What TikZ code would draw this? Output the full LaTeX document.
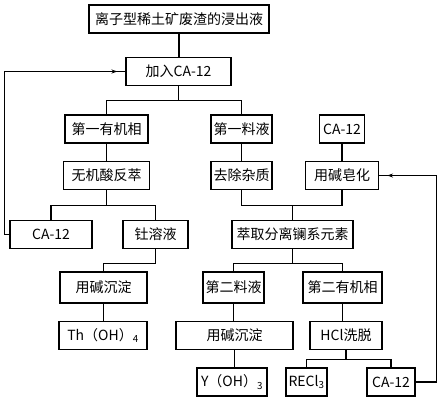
\documentclass[tikz,border=0pt]{standalone}
\usepackage{fontspec}
\newfontfamily\cjk{Noto Sans CJK SC}
\usepackage{tikz}
\usetikzlibrary{calc,arrows.meta,positioning,decorations.markings}

\begin{document}
\begin{tikzpicture}[x=1pt, y=-1pt,
        box/.style={draw, line width=1.1pt, minimum height=28pt, inner sep=1pt, align=center, font=\cjk\fontsize{14}{16}\selectfont},
        link/.style={line width=1.1pt},
        back/.style={link, postaction={decorate}, decoration={markings, mark=at position -8pt with {\arrow{Stealth[length=6pt,width=4pt]}}}},
        >=Stealth
    ]
        \fill[white] (0,0) rectangle (443,402);
        \useasboundingbox (0,0) rectangle (443,402);

        \node[box, minimum width=180pt] (leach) at (179,19) {离子型稀土矿废渣的浸出液};
        \node[box, minimum width=105pt] (add) at (178.5,71.5) {加入CA-12};
        \node[box, minimum width=83pt] (orgA) at (106.5,129) {第一有机相};
        \node[box, minimum width=61pt] (feedA) at (241.5,129) {第一料液};
        \node[box, minimum width=45pt] (caTop) at (342,129) {CA-12};
        \node[box, minimum width=86pt] (strip) at (106.5,175.5) {无机酸反萃};
        \node[box, minimum width=61pt] (clean) at (241.5,175.5) {去除杂质};
        \node[box, minimum width=73pt] (sapon) at (342,175.5) {用碱皂化};
        \node[box, minimum width=82pt] (caL) at (51,234.5) {CA-12};
        \node[box, minimum width=65pt] (thsol) at (155.5,234.5) {钍溶液};
        \node[box, minimum width=121pt] (sep) at (292.5,234.5) {萃取分离镧系元素};
        \node[box, minimum width=87pt, minimum height=31pt] (precA) at (103.5,287.5) {用碱沉淀};
        \node[box, minimum width=61pt, minimum height=31pt] (feedB) at (233.5,287.5) {第二料液};
        \node[box, minimum width=79pt, minimum height=31pt] (orgB) at (342.5,287.5) {第二有机相};
        \node[box, minimum width=88pt] (thoh) at (103,335.5) {Th（OH）\textsubscript{4}};
        \node[box, minimum width=117pt] (precB) at (234.5,335.5) {用碱沉淀};
        \node[box, minimum width=72pt] (hcl) at (346,335.5) {HCl洗脱};
        \node[box, minimum width=70pt] (yoh) at (232,382) {Y（OH）\textsubscript{3}};
        \node[box, minimum width=41pt] (recl) at (306.5,382) {RECl\textsubscript{3}};
        \node[box, minimum width=48pt] (caR) at (391,382) {CA-12};

        \draw[link] (leach.south) -- (leach.south |- add.north);
        \draw[link] (add.south) -- ++(0,14) coordinate (split1);
        \draw[link] (orgA.north) |- (split1) -| (feedA.north);
        \draw[link] (orgA) -- (strip);
        \draw[link] (feedA) -- (clean);
        \draw[link] (caTop) -- (sapon);
        \draw[link] (strip.south) -- ++(0,15) coordinate (split2);
        \draw[link] (caL.north) |- (split2) -| (thsol.north);
        \draw[link] (clean.south) -- ++(0,15) -| (sapon.south);
        \draw[link] (sep.north) -- ++(0,-15);
        \draw[link] (thsol.south) -- ++(0,14) -| (precA.north);
        \draw[link] (sep.south) -- ++(0,14) coordinate (split3);
        \draw[link] (feedB.north) |- (split3) -| (orgB.north);
        \draw[link] (precA.south) -- (precA.south |- thoh.north);
        \draw[link] (feedB.south) -- (feedB.south |- precB.north);
        \draw[link] (orgB.south) -- (orgB.south |- hcl.north);
        \draw[link] (precB.south) -- (precB.south |- yoh.north);
        \draw[link] (hcl.south) -- ++(0,9) coordinate (split4);
        \draw[link] (recl.north) |- (split4) -| (caR.north);

        % recycled extractant
        \draw[back] (caR.east) -- ++(21,0) |- (sapon.east);
        \draw[back] (caL.west) -- ++(-5,0) |- (add.west);
    \end{tikzpicture}
\end{document}
